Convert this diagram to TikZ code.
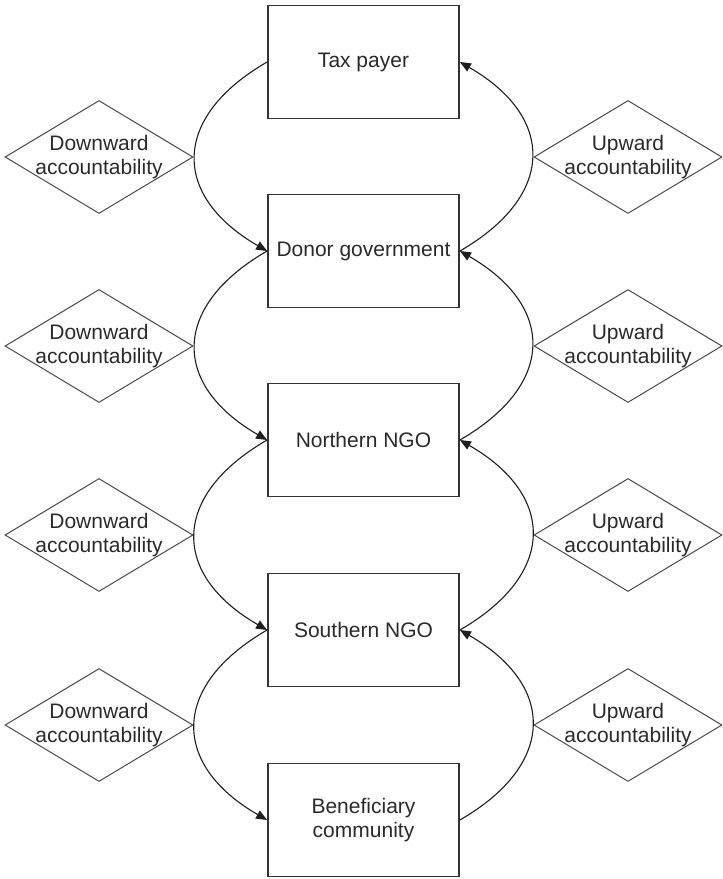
\documentclass[tikz,border=0pt]{standalone}
\usepackage{fontspec}
\setmainfont{Liberation Sans}
\usetikzlibrary{arrows.meta,shapes.geometric}
\definecolor{textgray}{HTML}{2A2A2A}
\definecolor{boxgray}{HTML}{333333}
\definecolor{diagray}{HTML}{4A4A4A}
\definecolor{linegray}{HTML}{1E1E1E}
\begin{document}
\begin{tikzpicture}[x=0.5pt,y=-0.5pt,
  every node/.style={font=\fontsize{10.5}{12}\selectfont, text=textgray},
  party/.style={draw=boxgray, line width=0.9pt, fill=white, minimum width=95.5pt,
                minimum height=56.5pt, inner sep=0pt, align=center},
  flag/.style={draw=diagray, line width=0.5pt, diamond, minimum width=94pt,
               minimum height=56.5pt, inner sep=0pt},
  flagtext/.style={align=center, inner sep=0pt},
  link/.style={draw=linegray, line width=0.55pt, looseness=1.5},
  tip/.style={-{Triangle[length=5.5pt,width=4.5pt]}}
]
\useasboundingbox (0,0) rectangle (723,879);

% accountability diamonds, left (downward) and right (upward)
\foreach \i/\y in {1/157,2/346,3/535,4/725}{
  \node[flag] (dl\i) at (99,\y) {};
  \node[flagtext] at (dl\i) {Downward\\accountability};
  \node[flag] (ul\i) at (628,\y) {};
  \node[flagtext] at (ul\i) {Upward\\accountability};
}

% the chain of parties
\node[party] (tp) at (363.5,62)  {Tax payer};
\node[party] (dg) at (363.5,251) {Donor government};
\node[party] (nn) at (363.5,440) {Northern NGO};
\node[party] (sn) at (363.5,630) {Southern NGO};
\node[party] (bc) at (363.5,820) {Beneficiary\\community};

% downward links on the left, upward links on the right
\foreach \a/\b in {tp/dg,dg/nn,nn/sn,sn/bc}{
  \draw[link,tip] (\a.west) to[out=210,in=150] (\b.west);
  \draw[link,tip] (\b.east) to[out=30,in=-30] (\a.east);
}
\end{tikzpicture}
\end{document}
